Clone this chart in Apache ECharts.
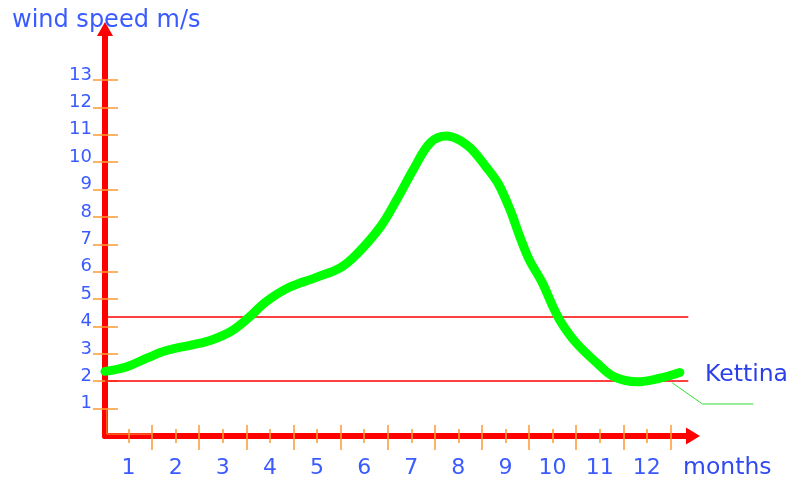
<!DOCTYPE html>
<html>
<head>
<meta charset="utf-8">
<script src="https://cdn.jsdelivr.net/npm/echarts@6/dist/echarts.min.js"></script>
<style>html,body{margin:0;padding:0;background:#fff}#c{width:791px;height:485px}</style>
</head>
<body>
<div id="c"></div>
<script>
// ---- data ----
const monthLabels = ['1','2','3','4','5','6','7','8','9','10','11','12'];
const yTickValues = [1,2,3,4,5,6,7,8,9,10,11,12,13];
const curveX = [0.0,0.45,0.9,1.3,1.85,2.25,2.7,3.1,3.4,3.9,4.5,5.0,5.35,5.85,6.2,6.55,6.9,7.25,7.7,8.1,8.35,8.6,8.8,9.0,9.28,9.5,9.68,10.0,10.45,10.8,11.3,11.75,12.2];
const curveY = [2.36,2.52,2.85,3.12,3.33,3.5,3.85,4.4,4.88,5.42,5.8,6.15,6.65,7.65,8.65,9.75,10.7,10.95,10.6,9.8,9.2,8.25,7.3,6.45,5.6,4.75,4.15,3.4,2.65,2.17,1.98,2.1,2.32];
const refLines = [4.35, 2.0];
const refLineEnd = 12.38;
const leaderX = [12.04, 12.68, 13.76];
const leaderY = [1.94, 1.17, 1.17];
const cornerX = [0.04, 0.04, 1.0];
const cornerY = [1.0, 0.07, 0.07];
const seriesName = 'Kettina';

const XMAX = 12.48, YMAX = 14.86;
const majorX = monthLabels.map((m, i) => i + 1);
const minorX = monthLabels.map((m, i) => i + 0.5);
const orange = '#ff9933', red = '#ff0000', blue = '#3a5bff';
const font = 'DejaVu Sans';

const chart = echarts.init(document.getElementById('c'));
const baseX = {type:'value', min:0, max:XMAX, position:'bottom', gridIndex:0, splitLine:{show:false}, axisLabel:{show:false}};
const baseY = {type:'value', min:0, max:YMAX, position:'left', gridIndex:0, splitLine:{show:false}, axisLabel:{show:false}};
chart.setOption({
  animation:false,
  grid:{left:105, right:98, top:29, bottom:49, containLabel:false},
  title:[
    {text:'wind speed m/s', left:7, top:4, textStyle:{fontFamily:font, fontSize:24, fontWeight:'normal', color:blue}},
    {text:'months', left:678, top:451, textStyle:{fontFamily:font, fontSize:23.5, fontWeight:'normal', color:'#2f4af0'}},
    {text:seriesName, left:700, top:358, textStyle:{fontFamily:font, fontSize:23.5, fontWeight:'normal', color:'#2b3fe8'}}
  ],
  xAxis:[
    Object.assign({}, baseX, {axisLine:{show:true, symbol:['none','triangle'], symbolSize:[17,14], lineStyle:{color:red, width:6}},
      axisTick:{show:true, inside:true, length:11, customValues:majorX, lineStyle:{color:orange, width:1.5}}}),
    Object.assign({}, baseX, {axisLine:{show:false},
      axisTick:{show:true, inside:false, length:14, customValues:majorX, lineStyle:{color:orange, width:1.5}}}),
    Object.assign({}, baseX, {axisLine:{show:false},
      axisTick:{show:true, inside:true, length:7, customValues:minorX, lineStyle:{color:orange, width:1.5}}}),
    Object.assign({}, baseX, {axisLine:{show:false},
      axisTick:{show:true, inside:false, length:7, customValues:minorX, lineStyle:{color:orange, width:1.5}},
      axisLabel:{show:true, customValues:minorX, margin:21, fontFamily:font, fontSize:22, color:blue,
        formatter:(v) => monthLabels[Math.floor(v)]}})
  ],
  yAxis:[
    Object.assign({}, baseY, {axisLine:{show:true, symbol:['none','triangle'], symbolSize:[16,14], lineStyle:{color:red, width:6}},
      axisTick:{show:true, inside:true, length:13, customValues:yTickValues, lineStyle:{color:orange, width:1.5}}}),
    Object.assign({}, baseY, {axisLine:{show:false},
      axisTick:{show:true, inside:false, length:12, customValues:yTickValues, lineStyle:{color:orange, width:1.5}},
      axisLabel:{show:true, customValues:yTickValues, margin:13, fontFamily:font, fontSize:18, color:blue,
        verticalAlign:'bottom', lineHeight:10}})
  ],
  series:[
    {type:'line', xAxisIndex:0, yAxisIndex:0, data:[], z:1, silent:true,
      markLine:{silent:true, symbol:'none', label:{show:false}, lineStyle:{color:red, width:1.5, type:'solid'},
        data: refLines.map(v => [{coord:[0, v]}, {coord:[refLineEnd, v]}])}},
    {type:'line', name:'corner', xAxisIndex:0, yAxisIndex:0, symbol:'none', z:4, silent:true,
      lineStyle:{color:orange, width:1}, data: cornerX.map((x, i) => [x, cornerY[i]])},
    {type:'line', name:seriesName, xAxisIndex:0, yAxisIndex:0, clip:false, symbol:'none', smooth:0.35, z:5,
      lineStyle:{color:'#00ff00', width:9, cap:'round', join:'round'},
      data: curveX.map((x, i) => [x, curveY[i]])}
  ]
});
// leader line from the series end to its label, placed through the chart's own scales
const leaderPts = leaderX.map((x, i) => chart.convertToPixel({xAxisIndex:0, yAxisIndex:0}, [x, leaderY[i]]));
chart.setOption({graphic:[{type:'polyline', shape:{points:leaderPts}, style:{stroke:'#33dd33', lineWidth:1, fill:null}, z:3, silent:true}]});
</script>
</body>
</html>
